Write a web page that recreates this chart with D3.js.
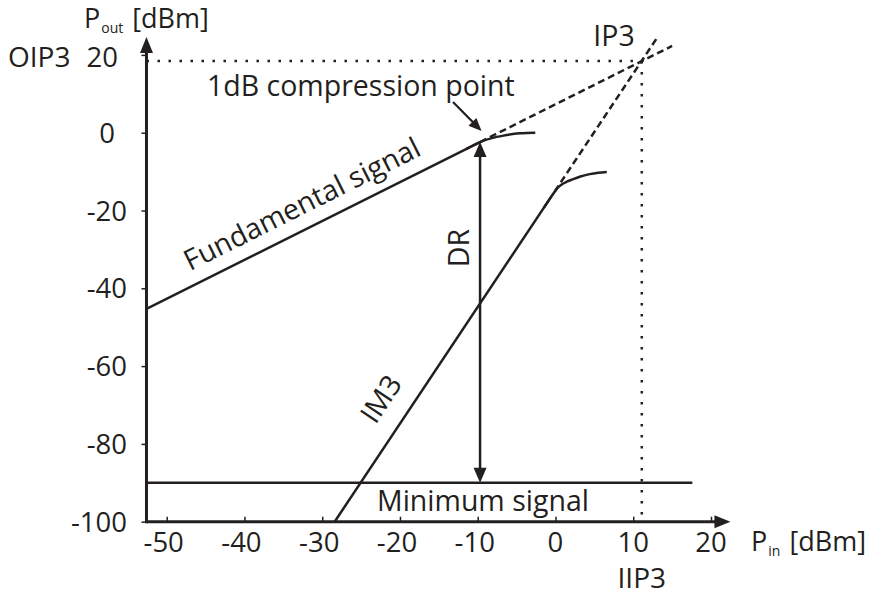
<!DOCTYPE html>
<html><head><meta charset="utf-8">
<script src="https://cdn.jsdelivr.net/npm/d3@7"></script>
<style>
body{margin:0;background:#fff}
text{font-family:"Open Sans",sans-serif;fill:#231f20}
</style></head>
<body><svg id="c" width="870" height="599"></svg>
<script>
// ---- data (dBm) ----
const xTicks = [-50,-40,-30,-20,-10,0,10,20];
const yTicks = [-100,-80,-60,-40,-20,0,20];
const xAxisExtent = [-52.6, 22.5];
const yAxisExtent = [-100, 24.6];
const fundLinear = [[-52.6,-45.3],[-9.7,-2.4]];
const fundCompressed = [[-11.5,-4.2],[-9.7,-2.4],[-8.2,-1.4],[-6.7,-0.75],[-4.6,-0.15],[-2.6,0]];
const fundExtrap = [[-9.7,-2.4],[15,22.3]];
const im3Linear = [[-28.4,-100],[-0.5,-16.3]];
const im3Compressed = [[-1.5,-19.3],[-0.5,-16.3],[-0.1,-15.15],[0.3,-14.15],[0.8,-13.3],[1.4,-12.65],[2.2,-12.0],[3.2,-11.25],[4.4,-10.65],[5.5,-10.3],[6.6,-10.1]];
const im3Extrap = [[-0.1,-15.1],[13.2,24.8]];
const ip3 = [11.1, 18.4];
const minSignal = [[-52.6,-90],[17.6,-90]];
const compressionPoint = [-9.7,-2.4];
const minSignalLevel = -90;

const svg = d3.select("#c");
const ink = "#231f20";
const x = d3.scaleLinear().domain([-50,20]).range([166.7,711]);
const y = d3.scaleLinear().domain([-100,20]).range([521.7,54.9]);
const line = d3.line().x(d=>x(d[0])).y(d=>y(d[1]));
const curve = d3.line().x(d=>x(d[0])).y(d=>y(d[1])).curve(d3.curveMonotoneX);

// dotted IP3 guides
svg.append("path").attr("d", line([[xAxisExtent[0],ip3[1]],ip3]))
  .attr("fill","none").attr("stroke",ink).attr("stroke-width",2.5).attr("stroke-dasharray","2.5,8.5");
svg.append("path").attr("d", line([ip3,[ip3[0],-100]]))
  .attr("fill","none").attr("stroke",ink).attr("stroke-width",2.5).attr("stroke-dasharray","2.5,8.5");

// dashed extrapolations
[fundExtrap, im3Extrap].forEach(d=>{
  svg.append("path").attr("d", line(d)).attr("fill","none").attr("stroke",ink)
    .attr("stroke-width",2.5).attr("stroke-dasharray","7,4");
});

// solid curves
[fundLinear, im3Linear, minSignal].forEach(d=>{
  svg.append("path").attr("d", line(d)).attr("fill","none").attr("stroke",ink).attr("stroke-width",2.5);
});
[fundCompressed, im3Compressed].forEach(d=>{
  svg.append("path").attr("d", curve(d)).attr("fill","none").attr("stroke",ink).attr("stroke-width",2.5);
});

// axes
const xAxis = d3.axisTop(x).tickValues(xTicks).tickSize(5).tickFormat("");
const gx = svg.append("g").attr("transform",`translate(0,${y(-100)})`).call(xAxis);
gx.select(".domain").remove();
gx.selectAll(".tick line").attr("stroke",ink).attr("stroke-width",1.5);
const yAxis = d3.axisLeft(y).tickValues(yTicks).tickSize(5).tickFormat("");
const gy = svg.append("g").attr("transform",`translate(${x(xAxisExtent[0])},0)`).call(yAxis);
gy.select(".domain").remove();
gy.selectAll(".tick line").attr("stroke",ink).attr("stroke-width",1.5);

const ax0 = x(xAxisExtent[0]), ay0 = y(-100);
svg.append("line").attr("x1",ax0).attr("y1",ay0).attr("x2",x(xAxisExtent[1])-12).attr("y2",ay0)
  .attr("stroke",ink).attr("stroke-width",3);
svg.append("line").attr("x1",ax0).attr("y1",ay0+1.5).attr("x2",ax0).attr("y2",y(yAxisExtent[1])+12)
  .attr("stroke",ink).attr("stroke-width",3);
function tri(tx,ty,angle,len,w){
  svg.append("path").attr("d",`M0,0L${-len},${-w/2}L${-len},${w/2}Z`)
    .attr("transform",`translate(${tx},${ty}) rotate(${angle})`).attr("fill",ink);
}
tri(x(xAxisExtent[1]), ay0, 0, 16, 13);
tri(ax0, y(yAxisExtent[1]), -90, 16, 13);

// tick labels
svg.append("g").selectAll("text").data(xTicks).join("text")
  .attr("x",d=>x(d) - (d<0 ? 3 : 0)).attr("y",552).attr("text-anchor","middle").attr("font-size",27.5).text(d=>d);
svg.append("g").selectAll("text").data(yTicks).join("text")
  .attr("x",d=> d===0 ? 115 : d===20 ? 118 : 127)
  .attr("y",d=> d===20 ? 67 : y(d)+10).attr("text-anchor","end").attr("font-size",27.5).text(d=>d);

// axis titles
const tp = svg.append("text").attr("x",84).attr("y",28).attr("font-size",27);
tp.append("tspan").text("P");
tp.append("tspan").attr("font-size",14).attr("dy",5).attr("dx",1).text("out");
tp.append("tspan").attr("dy",-5).attr("dx",9).text("[dBm]");
const tx = svg.append("text").attr("x",751).attr("y",551).attr("font-size",27);
tx.append("tspan").text("P");
tx.append("tspan").attr("font-size",14).attr("dy",5).attr("dx",1).text("in");
tx.append("tspan").attr("dy",-5).attr("dx",9).text("[dBm]");

svg.append("text").attr("x",8).attr("y",67).attr("font-size",28).text("OIP3");
svg.append("text").attr("x",x(ip3[0])).attr("y",588).attr("text-anchor","middle").attr("font-size",28).text("IIP3");
svg.append("text").attr("x",614).attr("y",46).attr("text-anchor","middle").attr("font-size",28.5).text("IP3");

// annotations
svg.append("text").attr("x",207).attr("y",96).attr("font-size",28.5).text("1dB compression point");
svg.append("text").attr("x",377).attr("y",511).attr("font-size",28.5).text("Minimum signal");
svg.append("text").attr("transform",`translate(${x(-47)},${y(-39.7)-16}) rotate(-26.6)`)
  .attr("font-size",28.5).text("Fundamental signal");
svg.append("text").attr("transform",`translate(381,399) rotate(-56.2)`)
  .attr("text-anchor","middle").attr("dy","0.35em").attr("font-size",28.5).text("IM3");
svg.append("text").attr("transform",`translate(459,248) rotate(-90)`)
  .attr("text-anchor","middle").attr("dy","0.35em").attr("font-size",28.5).text("DR");

// DR double arrow
const cx = x(compressionPoint[0]), cyT = y(compressionPoint[1]), cyB = y(minSignalLevel);
svg.append("line").attr("x1",cx).attr("y1",cyT+10).attr("x2",cx).attr("y2",cyB-10)
  .attr("stroke",ink).attr("stroke-width",2.5);
tri(cx, cyT, -90, 15, 13);
tri(cx, cyB, 90, 15, 13);

// pointer arrow from label to compression point
const px1 = 453, py1 = 102, px2 = cx+1.5, py2 = cyT-11;
const ang = Math.atan2(py2-py1, px2-px1)*180/Math.PI;
svg.append("line").attr("x1",px1).attr("y1",py1).attr("x2",px2-8*Math.cos(ang*Math.PI/180)).attr("y2",py2-8*Math.sin(ang*Math.PI/180))
  .attr("stroke",ink).attr("stroke-width",2.2);
tri(px2, py2, ang, 13, 11);
</script></body></html>
